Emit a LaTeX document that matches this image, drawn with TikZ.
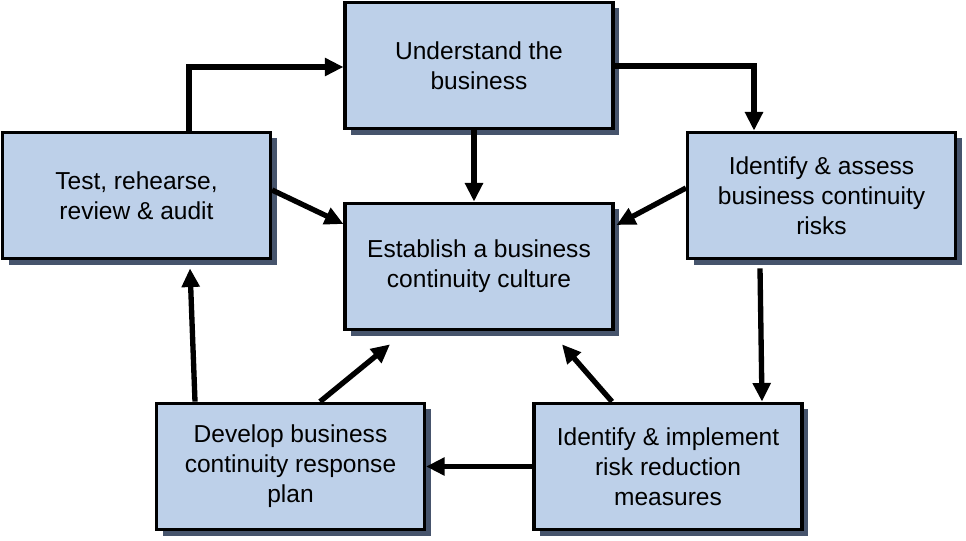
\documentclass[tikz,border=0pt]{standalone}
\usepackage{fontspec}
\setmainfont{Liberation Sans}
\usetikzlibrary{arrows.meta,shadows,calc}
\definecolor{boxfill}{RGB}{189,208,233}
\definecolor{shadowcol}{RGB}{70,84,108}
\tikzset{
  stepbox/.style={draw=black, line width=2.3pt, fill=boxfill,
    minimum width=201pt, minimum height=95pt, align=center,
    font=\fontsize{18.4}{22.5}\selectfont,
    drop shadow={shadow xshift=4.5pt, shadow yshift=-4.5pt, fill=shadowcol, opacity=1}},
  flow/.style={line width=4pt, -{Triangle[length=14pt,width=13pt]}}
}
\begin{document}
\begin{tikzpicture}[x=0.75pt,y=-0.75pt]
\useasboundingbox (0,0) rectangle (966,540);
\node[stepbox] (und) at (479,65.5) {Understand the\\business};
\node[stepbox] (test) at (136.5,195.5) {Test, rehearse,\\review \& audit};
\node[stepbox] (ida) at (821.5,195.5) {Identify \& assess\\business continuity\\risks};
\node[stepbox] (est) at (479,266.5) {Establish a business\\continuity culture};
\node[stepbox] (dev) at (290.5,466.5) {Develop business\\continuity response\\plan};
\node[stepbox] (imp) at (668,466.5) {Identify \& implement\\risk reduction\\measures};

\draw[flow] ($(test.north)+(52.5,0)$) |- ($(und.west)+(0,1.5)$);
\draw[flow] ($(und.east)+(0,0.5)$) -| ($(ida.north)+(-67.5,0)$);
\draw[flow] ($(und.south)+(-5,0)$) -- ($(est.north)+(-5,0)$);
\draw[flow] ($(test.east)+(0,-5.5)$) -- ($(est.west)+(0,-42.5)$);
\draw[flow] ($(ida.west)+(0,-7.5)$) -- ($(est.east)+(2,-41.5)$);
\draw[flow] ($(ida.south)+(-61.5,8)$) -- ($(imp.north)+(94,0)$);
\draw[flow] (imp.west) -- (dev.east);
\draw[flow] ($(dev.north)+(-95.5,0)$) -- ($(test.south)+(53.5,8)$);
\draw[flow] ($(dev.north)+(29.5,0)$) -- ($(est.south)+(-89,13)$);
\draw[flow] ($(imp.north)+(-56,0)$) -- ($(est.south)+(83,13)$);
\end{tikzpicture}
\end{document}
